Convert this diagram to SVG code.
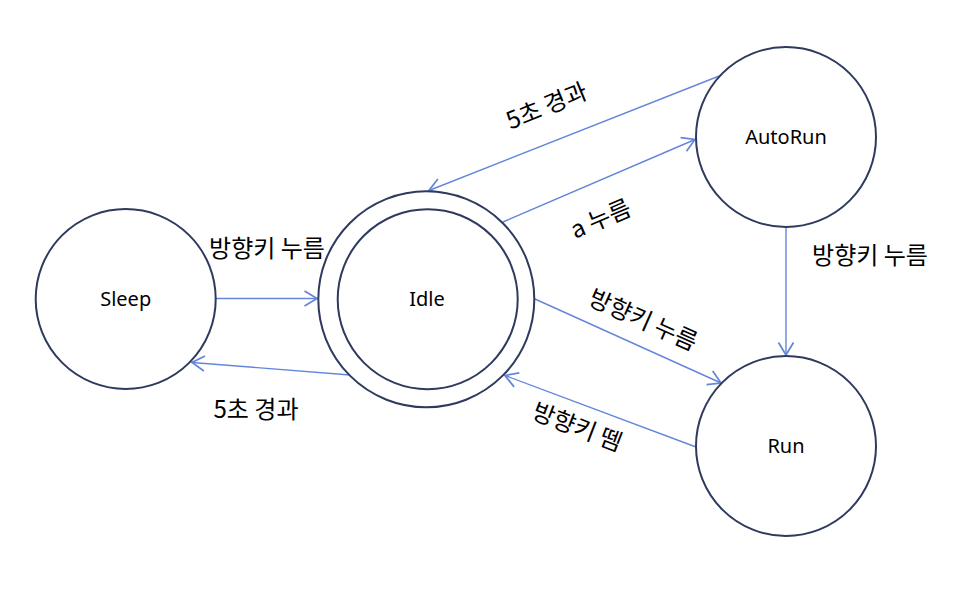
<svg xmlns="http://www.w3.org/2000/svg" width="969" height="589" viewBox="0 0 969 589">
<style>
.node{fill:#fff;stroke:#2E3A5E;stroke-width:2}
.nl{font-family:"Noto Sans","Liberation Sans",sans-serif;font-size:20px;fill:#000;text-anchor:middle;dominant-baseline:central}
.el{font-family:"Noto Sans CJK KR","Noto Sans",sans-serif;font-size:24px;fill:#000;text-anchor:middle;dominant-baseline:central}
.edge{fill:none;stroke:#6486DA;stroke-width:1.4}
</style>
<defs>
<marker id="arr" markerUnits="userSpaceOnUse" markerWidth="20" markerHeight="20" viewBox="-12 -8 14 16" refX="0" refY="0" orient="auto">
<path d="M-10,-6 L0,0 L-10,6" fill="none" stroke="#6486DA" stroke-width="1.4"/>
</marker>
</defs>
<rect width="969" height="589" fill="#fff"/>
<g id="edges">
<line class="edge" x1="216" y1="298.5" x2="317" y2="298.5" marker-end="url(#arr)"/>
<line class="edge" x1="350" y1="375" x2="192" y2="362.5" marker-end="url(#arr)"/>
<line class="edge" x1="723" y1="74.5" x2="429" y2="190.5" marker-end="url(#arr)"/>
<line class="edge" x1="503" y1="222" x2="695" y2="139.5" marker-end="url(#arr)"/>
<line class="edge" x1="535" y1="299" x2="721" y2="383" marker-end="url(#arr)"/>
<line class="edge" x1="696" y1="447" x2="505" y2="375.5" marker-end="url(#arr)"/>
<line class="edge" x1="786" y1="228" x2="786" y2="355" marker-end="url(#arr)"/>
<text class="el" x="267" y="246">방향키 누름</text>
<text class="el" x="256" y="407">5초 경과</text>
<text class="el" transform="translate(546,104) rotate(-22)">5초 경과</text>
<text class="el" transform="translate(600,217) rotate(-23)">a 누름</text>
<text class="el" transform="translate(644,318) rotate(24)">방향키 누름</text>
<text class="el" transform="translate(578,425) rotate(21)">방향키 뗌</text>
<text class="el" x="870" y="253">방향키 누름</text>
</g>
<g id="sleep">
<circle class="node" cx="125.7" cy="299" r="90"/>
<text class="nl" x="125.7" y="298">Sleep</text>
</g>
<g id="idle">
<circle class="node" cx="426.3" cy="299.3" r="108"/>
<circle class="node" cx="427.7" cy="299.2" r="90"/>
<text class="nl" x="427" y="298">Idle</text>
</g>
<g id="autorun">
<circle class="node" cx="786" cy="137" r="90"/>
<text class="nl" x="786" y="136">AutoRun</text>
</g>
<g id="run">
<circle class="node" cx="786" cy="446" r="90"/>
<text class="nl" x="786" y="445">Run</text>
</g>
</svg>
